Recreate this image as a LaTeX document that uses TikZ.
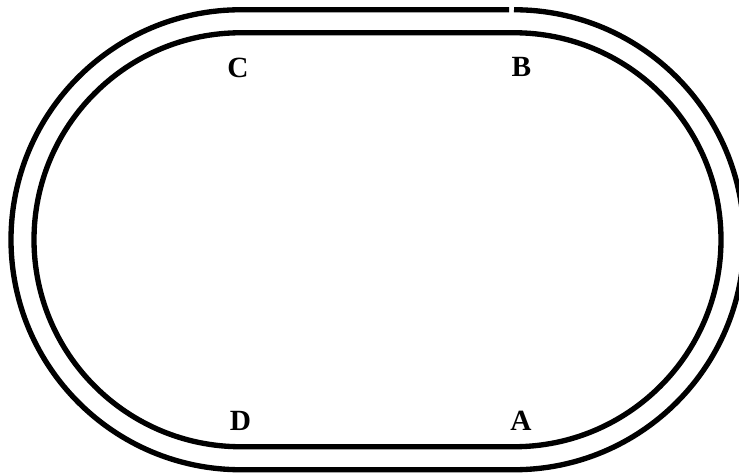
\documentclass[tikz,border=0pt]{standalone}
\usepackage{fontspec}
\setmainfont{Liberation Serif}
\usepackage{tikz}
\usetikzlibrary{positioning}
\tikzset{
  track/.style={line width=4pt, line cap=butt},
  pointlabel/.style={font=\fontsize{22}{26}\selectfont\bfseries, inner sep=0pt}
}

\begin{document}
\begin{tikzpicture}[x=0.75pt,y=0.75pt]
        \useasboundingbox (0,0) rectangle (739,474);
        % outer rail, open near the top right
        \draw[track] (509,464.25) -- (241,464.25)
            arc[start angle=90,end angle=270,radius=230] -- (514,4.25)
            arc[start angle=-90,end angle=90,radius=230];
        % inner rail
        \draw[track] (241,441.25) arc[start angle=90,end angle=270,radius=207]
            -- (514,27.25) arc[start angle=-90,end angle=90,radius=207] -- cycle;
        % corner marks
        \node[pointlabel] (ptC) at (238,406.5) {C};
        \node[pointlabel] (ptB) at (521.5,407) {B};
        \node[pointlabel] (ptD) at (240.5,53) {D};
        \node[pointlabel] (ptA) at (521,53) {A};
    \end{tikzpicture}
\end{document}
